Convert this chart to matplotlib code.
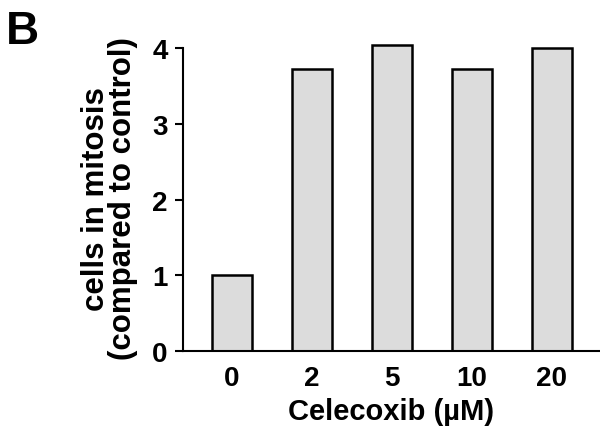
import numpy as np
import matplotlib.pyplot as plt

# data
doses = ['0', '2', '5', '10', '20']
mitosis = [1.0, 3.72, 4.04, 3.72, 4.0]

plt.rcParams['font.family'] = ['Liberation Sans', 'DejaVu Sans']
plt.rcParams['font.weight'] = 'bold'

fig = plt.figure(figsize=(6.0, 4.39), dpi=100)
ax = fig.add_axes([0.305, 0.198, 0.695, 0.699])

x = np.arange(len(doses))
ax.bar(x, mitosis, width=0.5, color='#dcdcdc', edgecolor='black', linewidth=1.8)

ax.set_xlim(-0.61, 4.6)
ax.set_ylim(0, 4.05)
ax.set_yticks([0, 1, 2, 3, 4])
ax.set_xticks(x)
ax.set_xticklabels(doses)

for s in ['top', 'right']:
    ax.spines[s].set_visible(False)
ax.spines['left'].set_bounds(0, 4)
ax.spines['left'].set_linewidth(1.5)
ax.spines['bottom'].set_linewidth(1.5)

ax.tick_params(axis='y', length=6, width=1.5, labelsize=20, pad=5)
ax.tick_params(axis='x', length=0, labelsize=20, pad=10)

ax.set_xlabel('Celecoxib (\u00b5M)', fontsize=21, fontweight='bold', labelpad=4)
ax.set_ylabel('cells in mitosis\n(compared to control)', fontsize=22.5,
              fontweight='bold', linespacing=0.9, labelpad=10)

fig.text(0.01, 0.978, 'B', fontsize=33, fontweight='bold', va='top', ha='left')

fig.savefig('out.png', dpi=100)
